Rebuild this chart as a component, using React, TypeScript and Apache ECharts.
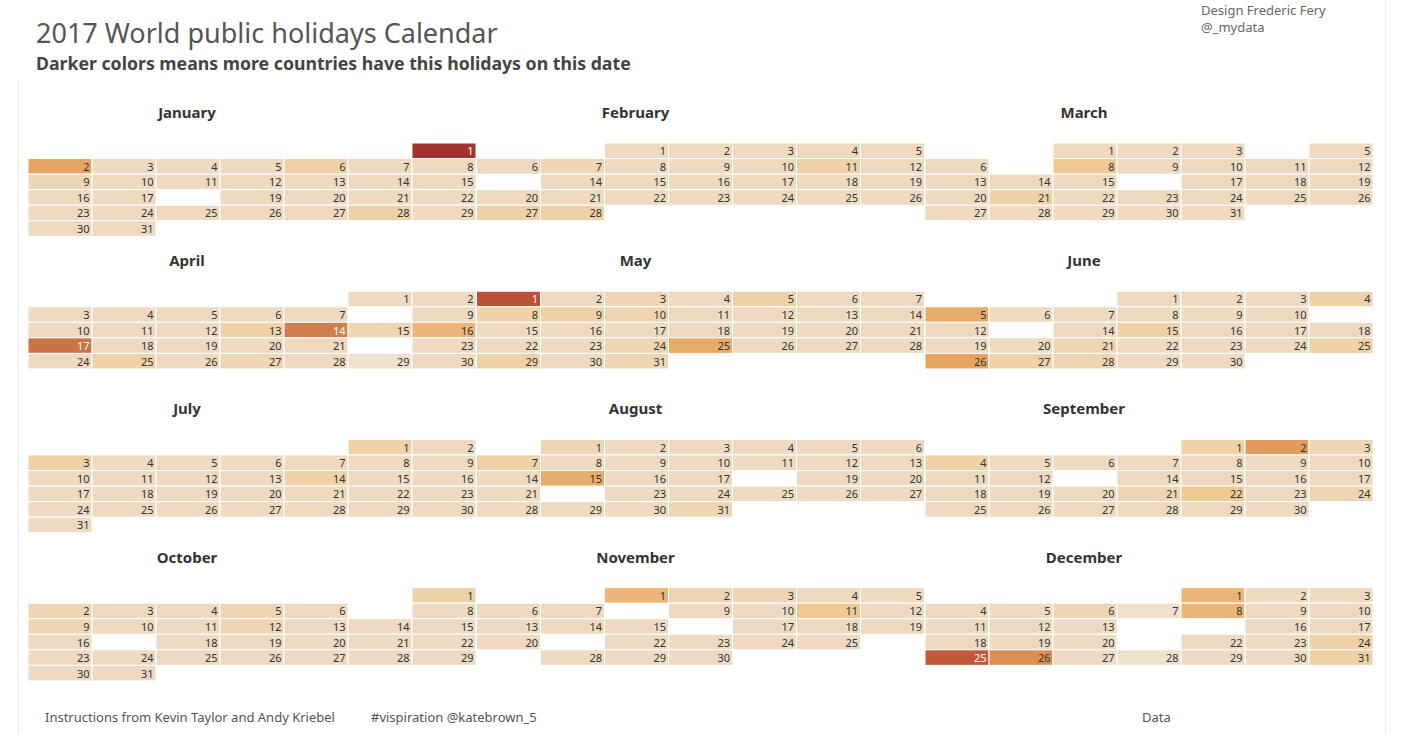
import React, { useEffect, useRef } from "react";
import * as echarts from "echarts";

const YEAR = 2017;
const MONTH_NAMES = [
  "January", "February", "March", "April", "May", "June",
  "July", "August", "September", "October", "November", "December",
];

// number of countries with a public holiday on each day (0 = none)
const jan = [
  40, 14, 2, 2, 2, 5, 2, 2, 3, 2,
  2, 2, 2, 2, 2, 2, 2, 0, 2, 2,
  2, 2, 2, 2, 2, 2, 2, 5, 2, 2,
  2,
];
const feb = [
  2, 2, 2, 2, 2, 2, 3, 2, 2, 2,
  4, 2, 0, 2, 2, 2, 2, 2, 2, 2,
  2, 2, 2, 2, 2, 2, 4, 4,
];
const mar = [
  2, 2, 2, 0, 2, 2, 0, 7, 2, 2,
  2, 2, 2, 2, 2, 0, 2, 2, 2, 2,
  4, 2, 2, 2, 2, 2, 2, 2, 2, 2,
  2,
];
const apr = [
  2, 2, 2, 2, 2, 2, 2, 0, 2, 2,
  2, 2, 5, 26, 3, 10, 28, 2, 2, 2,
  2, 0, 2, 2, 4, 2, 3, 2, 1, 2,
];
const may = [
  37, 2, 3, 2, 4, 2, 2, 4, 5, 3,
  2, 2, 2, 2, 2, 2, 2, 2, 2, 2,
  2, 2, 2, 3, 12, 2, 2, 2, 4, 2,
  3,
];
const jun = [
  2, 2, 2, 4, 12, 2, 2, 2, 2, 2,
  0, 2, 0, 2, 5, 2, 2, 2, 2, 2,
  3, 2, 2, 2, 4, 14, 4, 3, 2, 2,
];
const jul = [
  5, 2, 4, 2, 2, 2, 2, 2, 2, 2,
  2, 2, 2, 4, 2, 2, 2, 2, 2, 2,
  2, 2, 2, 2, 2, 2, 2, 2, 2, 2,
  2,
];
const aug = [
  3, 2, 2, 2, 2, 2, 5, 2, 2, 2,
  2, 2, 2, 2, 12, 2, 2, 0, 2, 2,
  2, 0, 2, 2, 2, 2, 2, 2, 2, 2,
  3,
];
const sep = [
  4, 17, 3, 5, 2, 2, 2, 2, 2, 2,
  2, 2, 0, 2, 2, 2, 2, 2, 2, 2,
  3, 7, 2, 3, 2, 2, 2, 2, 2, 2,
];
const oct = [
  5, 3, 2, 2, 3, 2, 0, 2, 3, 2,
  2, 3, 2, 2, 2, 2, 0, 2, 2, 2,
  2, 2, 2, 2, 2, 2, 2, 2, 2, 2,
  2,
];
const nov = [
  10, 3, 3, 2, 2, 2, 2, 0, 2, 2,
  6, 2, 2, 2, 2, 0, 2, 2, 2, 2,
  0, 2, 2, 2, 2, 0, 0, 2, 2, 2,
];
const dec = [
  10, 2, 2, 2, 2, 3, 1, 10, 2, 2,
  2, 2, 2, 0, 0, 2, 2, 2, 2, 2,
  0, 2, 2, 5, 35, 20, 2, 1, 2, 2,
  5,
];

const MONTH_VALUES = [jan, feb, mar, apr, may, jun, jul, aug, sep, oct, nov, dec];

const FONT = "'Noto Sans', 'Open Sans', sans-serif";

const CELL_W = 64;
const CELL_H = 15.55;
const GRID_LEFT = 28;
const GRID_TOP = 143;
const COL_STEP = 448.5;
const ROW_STEP = 148.2;

function pad(n: number) {
  return n < 10 ? "0" + n : String(n);
}

function buildOption() {
  const calendars: any[] = [];
  const series: any[] = [];
  const graphics: any[] = [];

  MONTH_VALUES.forEach((vals, i) => {
    const row = Math.floor(i / 3);
    const col = i % 3;
    const left = GRID_LEFT + col * COL_STEP;
    const top = GRID_TOP + row * ROW_STEP;
    calendars.push({
      orient: "vertical",
      range: `${YEAR}-${pad(i + 1)}`,
      left,
      top,
      cellSize: [CELL_W, CELL_H],
      splitLine: { show: false },
      itemStyle: { color: "rgba(0,0,0,0)", borderWidth: 0 },
      dayLabel: { show: false, firstDay: 1 },
      monthLabel: { show: false },
      yearLabel: { show: false },
      silent: true,
    });
    const data: any[] = [];
    vals.forEach((v, d) => {
      if (v > 0) {
        const item: any = {
          name: String(d + 1),
          value: [`${YEAR}-${pad(i + 1)}-${pad(d + 1)}`, v],
        };
        if (v >= 23) item.label = { color: "#ffffff" };
        data.push(item);
      }
    });
    series.push({
      type: "heatmap",
      coordinateSystem: "calendar",
      calendarIndex: i,
      data,
      label: {
        show: true,
        position: "insideRight",
        distance: 3,
        formatter: "{b}",
        fontSize: 11,
        color: "#333333",
        fontFamily: FONT,
      },
      itemStyle: { borderColor: "#ffffff", borderWidth: 1 },
      emphasis: { disabled: true },
    });
    graphics.push({
      type: "text",
      x: left + 159,
      y: top - 31,
      style: {
        text: MONTH_NAMES[i],
        font: `bold 15px ${FONT}`,
        fill: "#333333",
        align: "center",
        verticalAlign: "middle",
      },
    });
  });

  const small = (text: string, x: number, y: number, fill: string) => ({
    type: "text",
    x,
    y,
    style: { text, font: `13px ${FONT}`, fill, verticalAlign: "middle" },
  });

  graphics.push(
    {
      type: "line",
      shape: { x1: 18.5, y1: 80, x2: 18.5, y2: 735 },
      style: { stroke: "#ececec", lineWidth: 1 },
    },
    {
      type: "line",
      shape: { x1: 1385.5, y1: 0, x2: 1385.5, y2: 735 },
      style: { stroke: "#ececec", lineWidth: 1 },
    },
    {
      type: "text",
      x: 36,
      y: 32,
      style: {
        text: "2017 World public holidays Calendar",
        font: `27px ${FONT}`,
        fill: "#555555",
        verticalAlign: "middle",
      },
    },
    {
      type: "text",
      x: 36,
      y: 63,
      style: {
        text: "Darker colors means more countries have this holidays on this date",
        font: `bold 17.7px ${FONT}`,
        fill: "#444444",
        verticalAlign: "middle",
      },
    },
    small("Design Frederic Fery", 1201, 10, "#666666"),
    small("@_mydata", 1201, 27, "#666666"),
    small("Instructions from Kevin Taylor and Andy Kriebel", 45, 717, "#555555"),
    small("#vispiration @katebrown_5", 371, 717, "#555555"),
    small("Data", 1142, 717, "#555555")
  );

  return {
    animation: false,
    backgroundColor: "#ffffff",
    textStyle: { fontFamily: FONT },
    visualMap: {
      type: "piecewise",
      show: false,
      dimension: 1,
      pieces: [
        { min: 1, max: 1, color: "#EFE1CD" },
        { min: 2, max: 2, color: "#EDDAC0" },
        { min: 3, max: 3, color: "#EED6B5" },
        { min: 4, max: 5, color: "#EFD1A7" },
        { min: 6, max: 7, color: "#EEC994" },
        { min: 8, max: 10, color: "#EBB577" },
        { min: 11, max: 12, color: "#E8AC6A" },
        { min: 13, max: 15, color: "#E5A462" },
        { min: 16, max: 18, color: "#E19B5C" },
        { min: 19, max: 22, color: "#DC8F54" },
        { min: 23, max: 26, color: "#CF7F4D" },
        { min: 27, max: 30, color: "#CA7346" },
        { min: 31, max: 35, color: "#C15A3B" },
        { min: 36, max: 39, color: "#BA5237" },
        { min: 40, max: 1000, color: "#A3342C" },
      ],
    },
    calendar: calendars,
    series,
    graphic: graphics,
  };
}

export default function App() {
  const ref = useRef<HTMLDivElement>(null);
  useEffect(() => {
    if (!ref.current) return;
    const chart = echarts.init(ref.current, null, { renderer: "svg" });
    chart.setOption(buildOption() as any);
    return () => chart.dispose();
  }, []);
  return (
    <div
      ref={ref}
      style={{
        position: "fixed",
        left: 0,
        top: 0,
        width: 1414,
        height: 735,
        background: "#ffffff",
      }}
    />
  );
}
